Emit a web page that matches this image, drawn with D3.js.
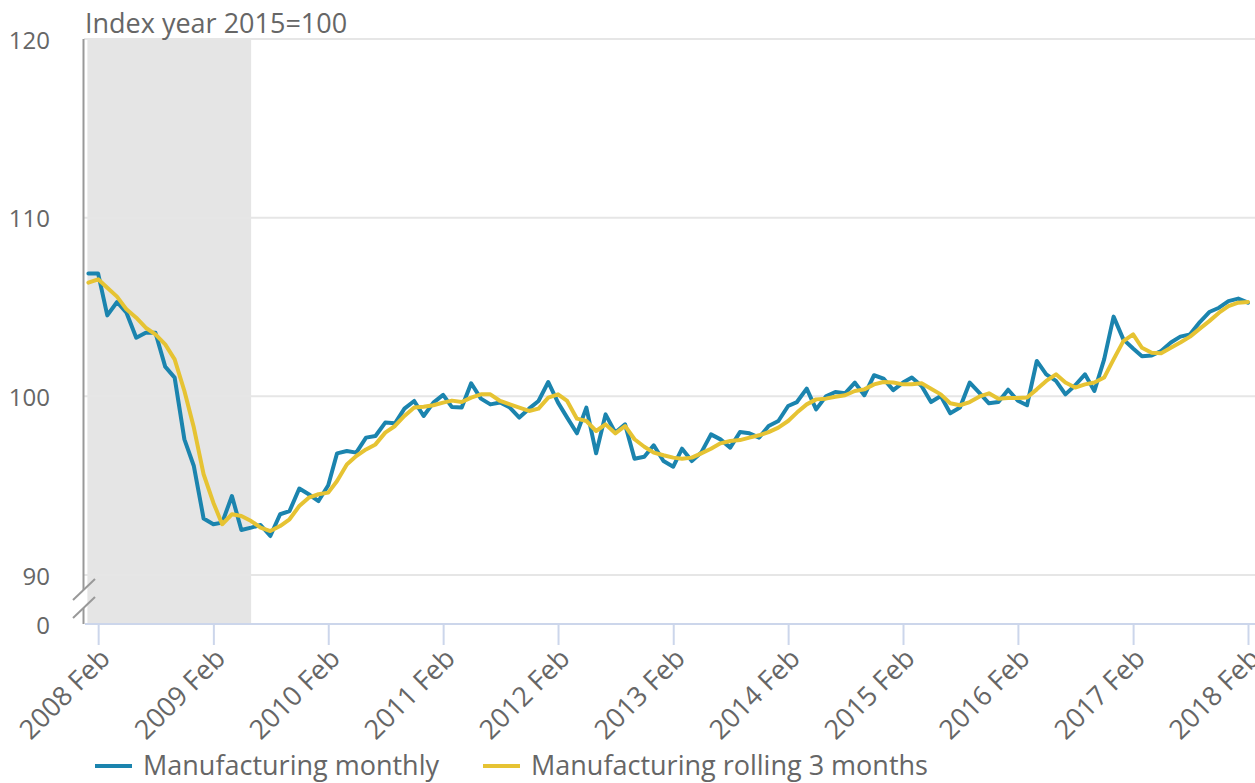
<!DOCTYPE html>
<html>
<head>
<meta charset="utf-8">
<script src="https://cdn.jsdelivr.net/npm/d3@7"></script>
<style>
  body { margin: 0; background: #fff; }
  #chart { width: 1255px; height: 783px; }
  text { font-family: "Open Sans", sans-serif; fill: #666; }
</style>
</head>
<body>
<div id="chart"></div>
<script>
/* chart values */
const firstMonth = new Date(2008, 0, 1);
const lastMonth = new Date(2018, 1, 1);
const seriesNames = ["Manufacturing monthly", "Manufacturing rolling 3 months"];
const seriesColors = ["#1b84ae", "#e6c333"];

const monthly = [
  106.87, 106.87, 104.53, 105.28, 104.68, 103.28, 103.56, 103.56, 101.66, 101.05, 97.59, 96.10,
  93.16, 92.84, 92.93, 94.42, 92.52, 92.65, 92.80, 92.18, 93.40, 93.58, 94.84, 94.52,
  94.14, 95.02, 96.81, 96.94, 96.85, 97.69, 97.78, 98.53, 98.49, 99.31, 99.74, 98.90,
  99.65, 100.08, 99.40, 99.37, 100.73, 99.87, 99.55, 99.65, 99.37, 98.81, 99.31, 99.74,
  100.80, 99.65, 98.81, 97.93, 99.37, 96.81, 98.99, 97.97, 98.43, 96.51, 96.62, 97.26,
  96.38, 96.06, 97.07, 96.38, 96.85, 97.87, 97.59, 97.13, 98.00, 97.93, 97.69, 98.34,
  98.62, 99.46, 99.68, 100.43, 99.27, 100.00, 100.24, 100.17, 100.77, 100.06, 101.18, 100.99,
  100.35, 100.77, 101.05, 100.58, 99.68, 100.02, 99.05, 99.37, 100.77, 100.21, 99.61, 99.68,
  100.37, 99.75, 99.50, 101.98, 101.23, 100.86, 100.11, 100.62, 101.23, 100.30, 102.07, 104.46,
  103.19, 102.68, 102.25, 102.29, 102.54, 103.01, 103.34, 103.47, 104.16, 104.72, 104.96, 105.33,
  105.47, 105.24
];

const rolling = [
  106.36, 106.55, 106.08, 105.58, 104.87, 104.40, 103.84, 103.47, 102.91, 102.07, 100.30, 98.25,
  95.64, 94.05, 92.84, 93.40, 93.30, 93.02, 92.65, 92.46, 92.74, 93.12, 93.86, 94.33,
  94.52, 94.61, 95.26, 96.19, 96.66, 97.03, 97.31, 97.97, 98.34, 98.90, 99.37, 99.42,
  99.50, 99.65, 99.76, 99.68, 99.93, 100.11, 100.11, 99.74, 99.55, 99.37, 99.18, 99.31,
  99.93, 100.11, 99.74, 98.75, 98.62, 98.06, 98.43, 97.93, 98.34, 97.60, 97.18, 96.85,
  96.70, 96.57, 96.51, 96.57, 96.81, 97.07, 97.37, 97.50, 97.55, 97.69, 97.82, 98.00,
  98.25, 98.62, 99.09, 99.55, 99.83, 99.87, 99.98, 100.06, 100.30, 100.39, 100.67, 100.80,
  100.77, 100.67, 100.67, 100.73, 100.43, 100.11, 99.61, 99.50, 99.68, 99.98, 100.17, 99.87,
  99.90, 99.90, 99.93, 100.39, 100.86, 101.23, 100.77, 100.49, 100.67, 100.77, 101.05, 102.07,
  103.09, 103.47, 102.72, 102.44, 102.41, 102.72, 103.01, 103.34, 103.79, 104.21, 104.68, 105.05,
  105.24, 105.28
];

const yTicks = [0, 90, 100, 110, 120];
const xTickYears = [2008, 2009, 2010, 2011, 2012, 2013, 2014, 2015, 2016, 2017, 2018];
const recession = [new Date(2008, 0, 1), new Date(2009, 5, 1)];
const yTitle = "Index year 2015=100";

const width = 1255;
const height = 783;
const margin = { top: 39, left: 84, right: 0, bottom: 159 };
const axisY = height - margin.bottom;

const svg = d3.select("#chart")
    .append("svg")
    .attr("width", width)
    .attr("height", height);

const months = d3.timeMonth.range(firstMonth, d3.timeMonth.offset(lastMonth, 1));

// x is a time scale, one step per month
const xScale = d3.scaleTime()
    .domain([firstMonth, lastMonth])
    .range([88.4, 1248]);

// broken y axis: 0..90 squeezed, 90..120 full
const yScale = d3.scaleLinear()
    .domain([0, 90, 120])
    .range([axisY, 575, margin.top]);

// recession band
svg.append("rect")
    .attr("x", xScale(recession[0]) - 1)
    .attr("y", margin.top)
    .attr("width", xScale(recession[1]) - xScale(recession[0]) + 1)
    .attr("height", axisY - margin.top)
    .attr("fill", "#e5e5e5");

// gridlines
svg.append("g")
    .selectAll("line")
    .data(yTicks.filter(d => d > 0))
    .join("line")
    .attr("x1", margin.left)
    .attr("x2", width)
    .attr("y1", d => yScale(d))
    .attr("y2", d => yScale(d))
    .attr("stroke", "#e6e6e6")
    .attr("stroke-width", 2);

// y axis labels
const yAxis = svg.append("g")
    .attr("transform", `translate(${margin.left},0)`)
    .call(d3.axisLeft(yScale).tickValues(yTicks).tickSize(0).tickPadding(34));
yAxis.select(".domain").remove();
yAxis.selectAll("text")
    .attr("dy", "0.38em")
    .style("font-size", "24px")
    .style("font-family", "Open Sans")
    .attr("fill", "#666");

// y axis line with a break between 0 and 90
const breakTop = 590, breakBottom = 608;
svg.append("line")
    .attr("x1", 83.5).attr("x2", 83.5)
    .attr("y1", margin.top).attr("y2", breakTop)
    .attr("stroke", "#999").attr("stroke-width", 2);
svg.append("line")
    .attr("x1", 83.5).attr("x2", 83.5)
    .attr("y1", breakBottom).attr("y2", axisY)
    .attr("stroke", "#999").attr("stroke-width", 2);
[breakTop, breakBottom].forEach(b => {
    svg.append("line")
        .attr("x1", 73).attr("y1", b + 10)
        .attr("x2", 95).attr("y2", b - 11)
        .attr("stroke", "#999").attr("stroke-width", 2);
});

// x axis
const xTicks = xTickYears.map(y => new Date(y, 1, 1));
const xAxis = svg.append("g")
    .attr("transform", `translate(0,${axisY})`)
    .call(d3.axisBottom(xScale)
        .tickValues(xTicks)
        .tickSize(21)
        .tickSizeOuter(0)
        .tickFormat(d3.timeFormat("%Y %b")));
xAxis.select(".domain")
    .attr("d", `M${margin.left + 1},0H${width}`)
    .attr("stroke", "#ccd6eb")
    .attr("stroke-width", 2);
xAxis.selectAll(".tick line")
    .attr("stroke", "#ccd6eb")
    .attr("stroke-width", 2);
xAxis.selectAll(".tick text")
    .attr("y", 0)
    .attr("dy", 0)
    .attr("text-anchor", "end")
    .attr("transform", "translate(13,36) rotate(-45)")
    .style("font-size", "27px")
    .style("font-family", "Open Sans")
    .attr("fill", "#666");

// lines
const line = d3.line()
    .x((d, i) => xScale(months[i]))
    .y(d => yScale(d));

[monthly, rolling].forEach((s, k) => {
    svg.append("path")
        .datum(s)
        .attr("d", line)
        .attr("fill", "none")
        .attr("stroke", seriesColors[k])
        .attr("stroke-width", 4)
        .attr("stroke-linejoin", "round")
        .attr("stroke-linecap", "round");
});

// y title
svg.append("text")
    .attr("x", 85)
    .attr("y", 33)
    .style("font-size", "27px")
    .text(yTitle);

// legend
const legendX = [95, 483];
const legend = svg.append("g");
seriesNames.forEach((name, k) => {
    legend.append("line")
        .attr("x1", legendX[k]).attr("x2", legendX[k] + 37)
        .attr("y1", 766).attr("y2", 766)
        .attr("stroke", seriesColors[k])
        .attr("stroke-width", 4);
    legend.append("text")
        .attr("x", legendX[k] + 48)
        .attr("y", 775)
        .style("font-size", "27px")
        .text(name);
});
</script>
</body>
</html>
